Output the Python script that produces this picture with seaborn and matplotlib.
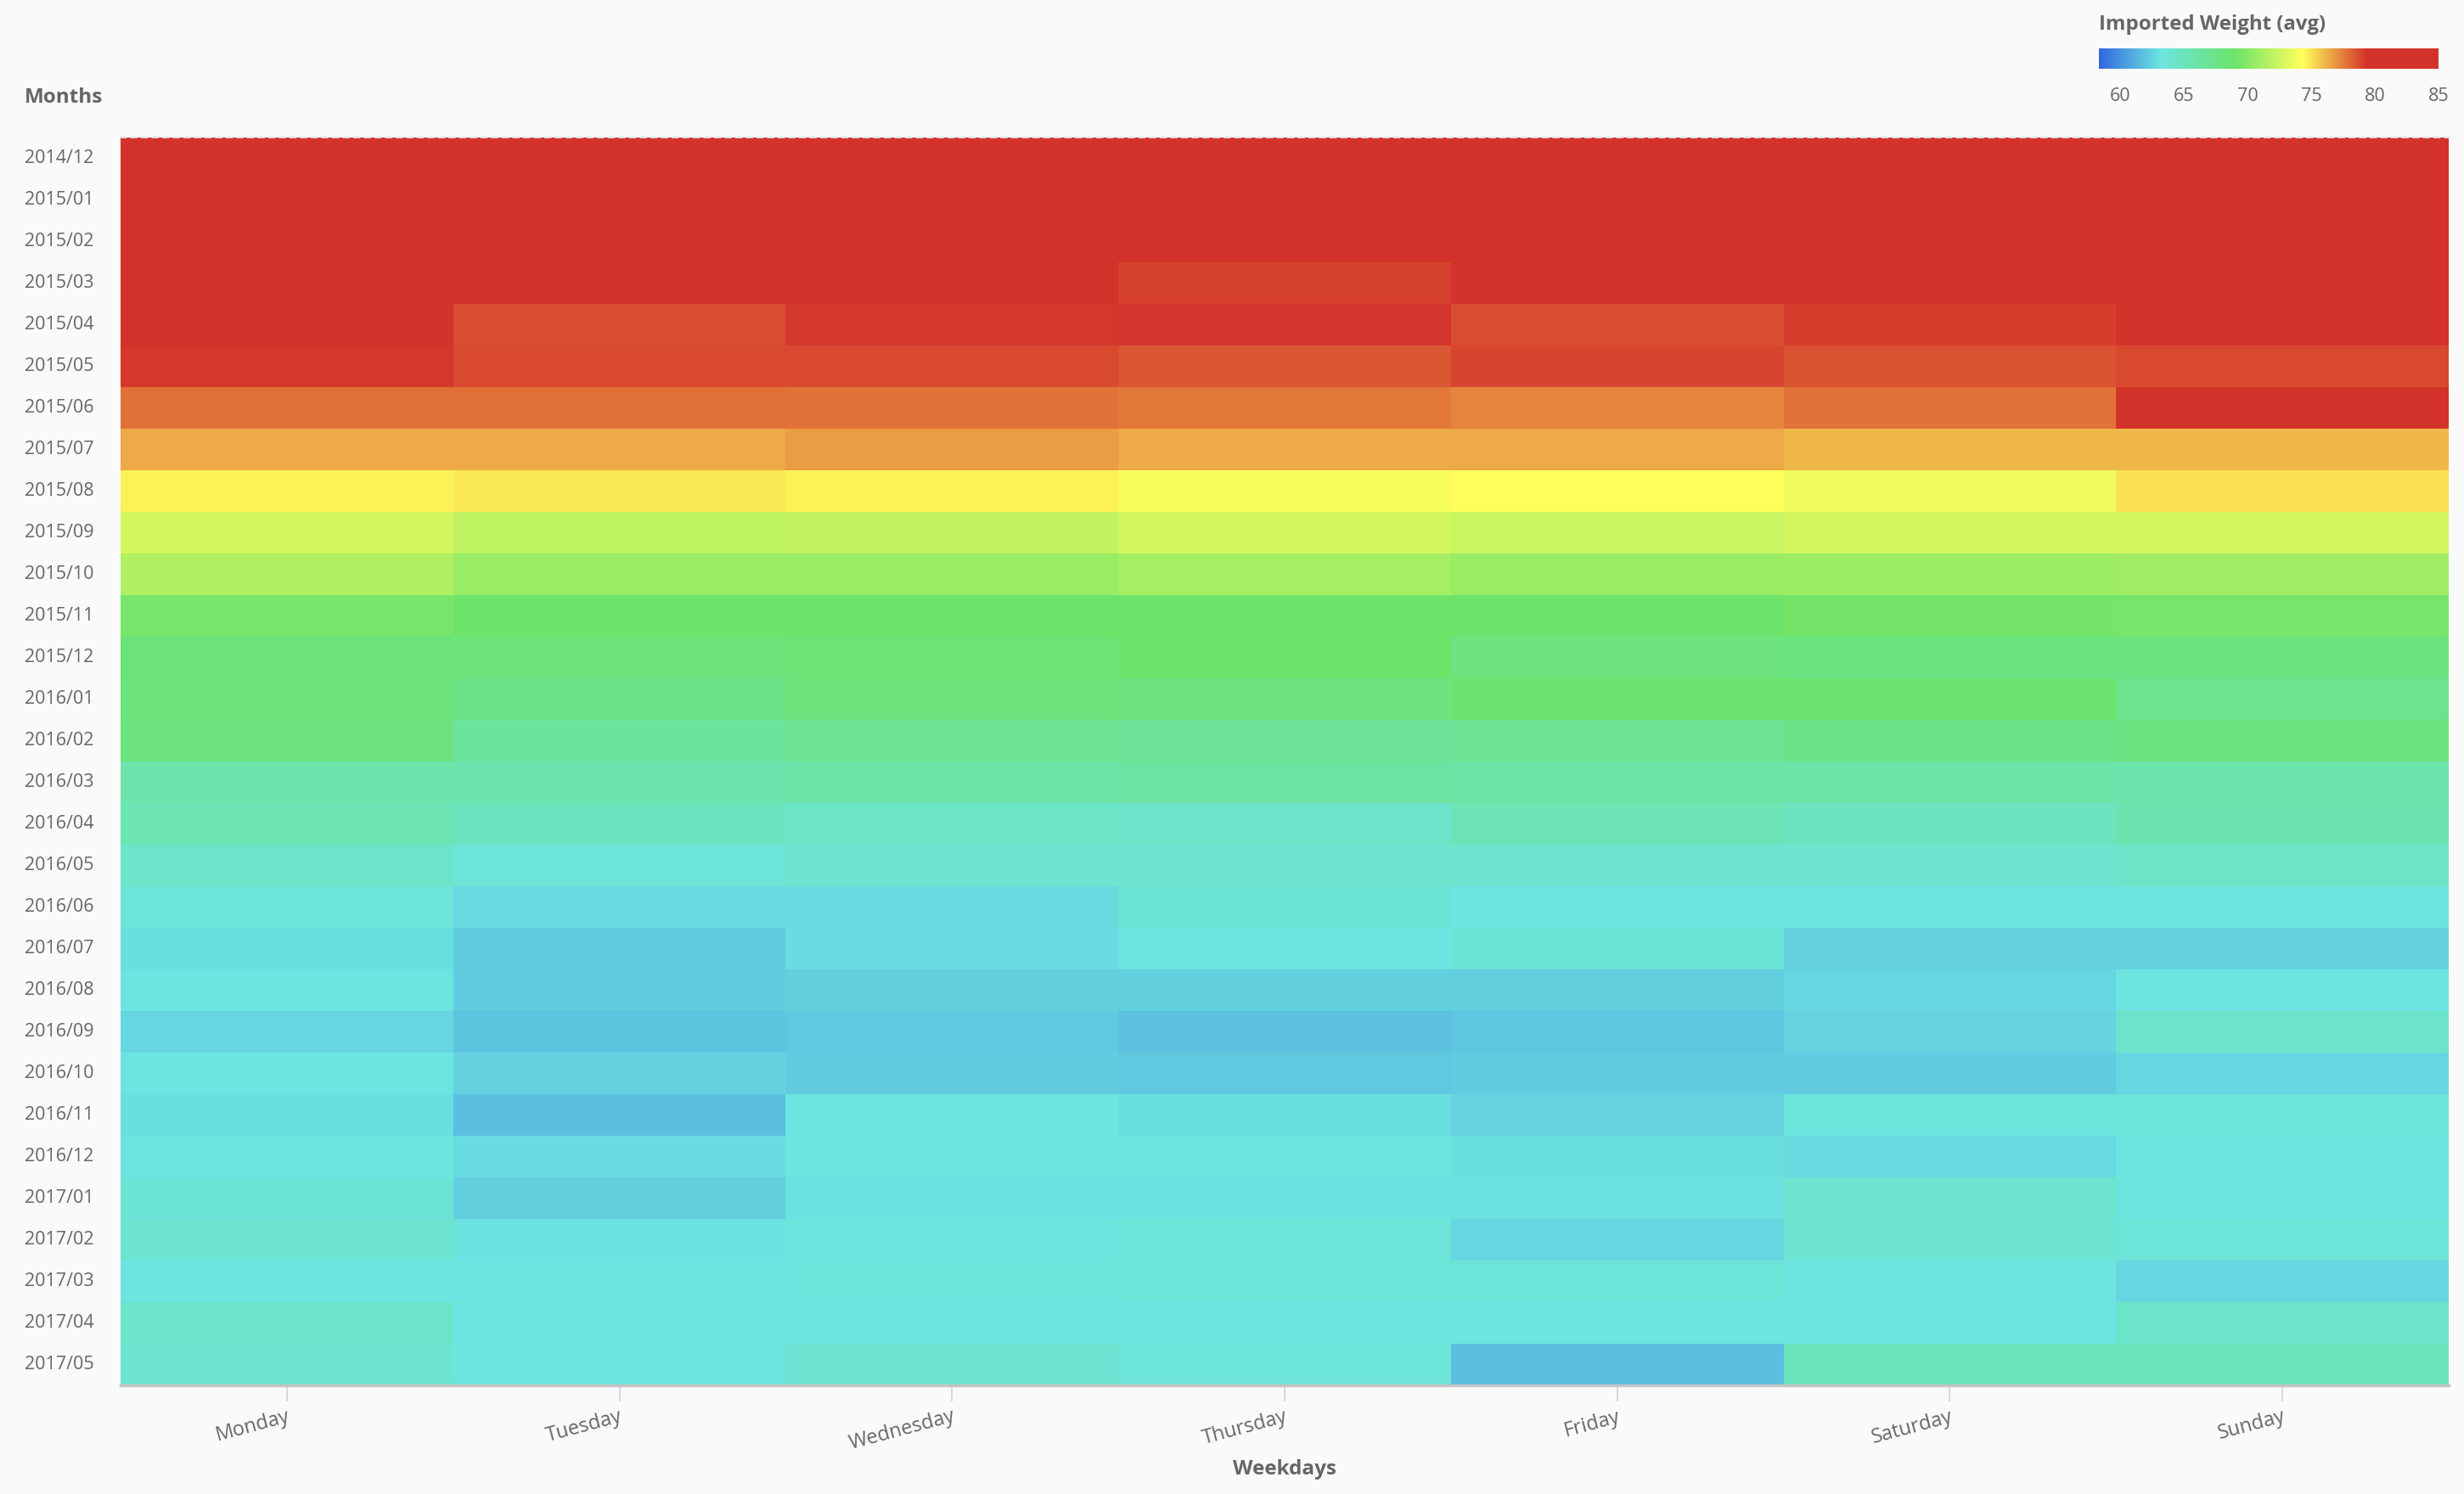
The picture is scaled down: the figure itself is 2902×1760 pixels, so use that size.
import numpy as np
import pandas as pd
import matplotlib
matplotlib.use("Agg")
import matplotlib.pyplot as plt
from matplotlib.colors import LinearSegmentedColormap, Normalize
from matplotlib.cm import ScalarMappable
import seaborn as sns

# months (rows, top to bottom) and weekdays (columns)
months = ['2014/12', '2015/01', '2015/02', '2015/03', '2015/04', '2015/05',
          '2015/06', '2015/07', '2015/08', '2015/09', '2015/10', '2015/11',
          '2015/12', '2016/01', '2016/02', '2016/03', '2016/04', '2016/05',
          '2016/06', '2016/07', '2016/08', '2016/09', '2016/10', '2016/11',
          '2016/12', '2017/01', '2017/02', '2017/03', '2017/04', '2017/05']
weekdays = ['Monday', 'Tuesday', 'Wednesday', 'Thursday', 'Friday', 'Saturday', 'Sunday']

# average imported weight per weekday, one value per month
monday = [83.5, 83.0, 82.2, 81.0, 80.3, 79.2, 77.9, 76.4, 74.6, 72.7, 71.5, 69.4, 68.3, 68.2, 68.1,
          65.8, 65.3, 64.3, 63.6, 62.9, 63.1, 62.6, 63.1, 62.9, 63.1, 63.7, 64.0, 63.1, 64.3, 63.9]
tuesday = [83.8, 83.2, 82.5, 80.5, 78.7, 78.8, 77.9, 76.4, 74.8, 72.0, 70.7, 69.05, 68.2, 67.6, 66.5,
           65.7, 64.7, 63.6, 62.7, 62.2, 62.2, 61.9, 62.4, 61.7, 62.8, 62.3, 63.0, 63.1, 63.1, 63.1]
wednesday = [83.6, 82.8, 82.0, 80.7, 79.2, 78.8, 77.8, 76.7, 74.6, 72.1, 70.7, 69.05, 68.4, 68.2, 67.0,
             65.9, 64.4, 64.0, 62.7, 62.8, 62.3, 62.1, 62.2, 63.1, 63.1, 63.0, 63.3, 63.4, 63.2, 63.9]
thursday = [83.2, 82.5, 81.6, 79.0, 79.3, 78.5, 77.6, 76.4, 74.0, 72.7, 71.1, 69.1, 69.1, 67.9, 66.8,
            66.3, 64.3, 64.0, 63.8, 63.1, 62.3, 61.8, 62.1, 62.9, 63.1, 63.0, 63.6, 63.6, 63.1, 63.6]
friday = [84.0, 83.4, 82.3, 80.4, 78.7, 78.9, 77.3, 76.4, 74.35, 72.4, 70.7, 69.0, 68.1, 68.7, 66.9,
          66.1, 65.2, 64.0, 63.1, 63.7, 62.3, 62.0, 62.2, 62.5, 62.9, 63.0, 62.6, 63.6, 63.1, 61.7]
saturday = [83.5, 82.9, 82.1, 80.2, 79.1, 78.6, 77.7, 76.1, 73.8, 72.7, 70.8, 69.3, 67.8, 68.8, 67.6,
            65.9, 64.7, 64.0, 63.1, 62.4, 62.6, 62.5, 62.2, 63.4, 62.7, 64.0, 64.0, 63.1, 63.2, 64.8]
sunday = [84.5, 83.8, 82.6, 80.6, 80.1, 78.8, 80.2, 76.1, 75.0, 72.6, 70.9, 69.4, 67.8, 67.3, 67.8,
          65.7, 65.6, 64.4, 63.3, 62.4, 63.1, 64.3, 62.6, 63.5, 63.1, 63.3, 63.6, 62.6, 64.3, 64.8]

cbar_ticks = [60, 65, 70, 75, 80, 85]

df = pd.DataFrame({'Monday': monday, 'Tuesday': tuesday, 'Wednesday': wednesday,
                   'Thursday': thursday, 'Friday': friday, 'Saturday': saturday,
                   'Sunday': sunday}, index=months)[weekdays]

# colour scale: blue -> cyan -> green -> yellow -> red
vmin, vmax = 58.3, 85.0
stops = [(58.3, '#3367dd'), (63.1, '#6ce4e0'), (69.0, '#6ce36a'),
         (74.3, '#ffff5a'), (79.4, '#d3322a'), (85.0, '#d3322a')]
cmap = LinearSegmentedColormap.from_list(
    'weight', [((v - vmin) / (vmax - vmin), c) for v, c in stops])

plt.rcParams['font.family'] = ['Open Sans', 'DejaVu Sans']
text_col = '#666666'
bg = '#fafafa'

fig = plt.figure(figsize=(29.02, 17.6), dpi=100, facecolor=bg)
ax = fig.add_axes([142 / 2902, 1 - 1632 / 1760, 2742 / 2902, 1470 / 1760])
ax.set_facecolor(bg)

sns.heatmap(df, cmap=cmap, vmin=vmin, vmax=vmax, cbar=False, ax=ax, linewidths=0)

ax.set_yticklabels(months, rotation=0, ha='left', fontsize=15.5, color=text_col)
ax.tick_params(axis='y', length=0, pad=81)
ax.set_xticklabels(weekdays, rotation=15, ha='right', va='top', rotation_mode='anchor',
                   fontsize=17, color=text_col)
ax.tick_params(axis='x', length=14, width=1.2, color='#cdd3dc', pad=4)

for side in ['left', 'right']:
    ax.spines[side].set_visible(False)
ax.spines['bottom'].set_visible(True)
ax.spines['bottom'].set_color('#c4c4c4')
ax.spines['bottom'].set_linewidth(2.5)
ax.spines['top'].set_visible(True)
ax.spines['top'].set_color('#dddddd')
ax.spines['top'].set_linestyle((0, (3, 3)))
ax.spines['top'].set_linewidth(1.5)

ax.set_xlabel('')
ax.set_ylabel('')
fig.text(1513 / 2902, 1 - 1731 / 1760, 'Weekdays', ha='center', va='center',
         fontsize=17.5, fontweight='bold', color=text_col)
fig.text(29 / 2902, 1 - 115 / 1760, 'Months', ha='left', va='center',
         fontsize=17.5, fontweight='bold', color=text_col)

# colour legend in the top right corner
cax = fig.add_axes([2472 / 2902, 1 - 81 / 1760, 400 / 2902, 24 / 1760])
sm = ScalarMappable(norm=Normalize(vmin=vmin, vmax=vmax), cmap=cmap)
cb = fig.colorbar(sm, cax=cax, orientation='horizontal', ticks=cbar_ticks)
cb.outline.set_visible(False)
cb.ax.tick_params(length=0, pad=16, labelsize=15.5, labelcolor=text_col)
fig.text(2472 / 2902, 1 - 29 / 1760, 'Imported Weight (avg)', ha='left', va='center',
         fontsize=17.3, fontweight='bold', color=text_col)

fig.savefig('out.png', dpi=100, facecolor=bg)
